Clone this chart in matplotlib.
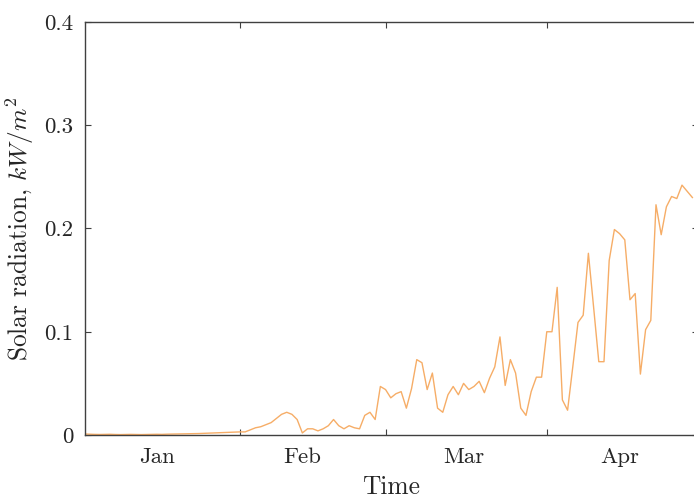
import matplotlib
matplotlib.use("Agg")
import matplotlib.pyplot as plt
import matplotlib.dates as mdates
import pandas as pd

# daily mean solar radiation, kW/m^2, from Jan 1
jan = [0.001, 0.001, 0.0008, 0.0006, 0.0005, 0.0006, 0.0007, 0.0005, 0.0004, 0.0005,
       0.0006, 0.0005, 0.0004, 0.0005, 0.0006, 0.0007, 0.0006, 0.0008, 0.0009, 0.001,
       0.0011, 0.0012, 0.0013, 0.0014, 0.0016, 0.0018, 0.002, 0.0022, 0.0024, 0.0026, 0.0028]
feb = [0.003, 0.003, 0.005, 0.007, 0.008, 0.010, 0.012, 0.016, 0.020, 0.022,
       0.020, 0.015, 0.002, 0.006, 0.006, 0.004, 0.006, 0.009, 0.015, 0.009,
       0.006, 0.009, 0.007, 0.006, 0.019, 0.022, 0.015, 0.047]
mar = [0.044, 0.036, 0.040, 0.042, 0.026, 0.045, 0.073, 0.070, 0.044, 0.060,
       0.026, 0.022, 0.039, 0.047, 0.039, 0.050, 0.044, 0.047, 0.052, 0.041,
       0.055, 0.066, 0.095, 0.048, 0.073, 0.060, 0.026, 0.019, 0.042, 0.056, 0.056]
apr = [0.100, 0.100, 0.143, 0.034, 0.024, 0.066, 0.109, 0.116, 0.176, 0.124,
       0.071, 0.071, 0.169, 0.199, 0.195, 0.189, 0.131, 0.137, 0.059, 0.102,
       0.111, 0.223, 0.194, 0.221, 0.231, 0.229, 0.242, 0.236, 0.230]

radiation = jan + feb + mar + apr
days = pd.date_range("2017-01-01", periods=len(radiation), freq="D")

month_labels = ["Jan", "Feb", "Mar", "Apr"]
label_dates = pd.to_datetime(["2017-01-16", "2017-02-13", "2017-03-16", "2017-04-15"])

yticks = [0, 0.1, 0.2, 0.3, 0.4]
ytick_labels = ["0", "0.1", "0.2", "0.3", "0.4"]

plt.rcParams["font.family"] = "cmr10"
plt.rcParams["mathtext.fontset"] = "cm"
plt.rcParams["axes.formatter.use_mathtext"] = True

text_col = "#262626"

fig = plt.figure(figsize=(6.94, 5.03), dpi=100)
ax = fig.add_axes([85 / 694, 68 / 503, 612.6 / 694, 413 / 503])

ax.plot(days, radiation, color="#f6ad67", lw=1.0)

start = pd.Timestamp("2017-01-01")
ax.set_xlim(start + pd.Timedelta(hours=29), start + pd.Timedelta(days=119))
ax.set_ylim(0, 0.4)

# month boundaries get tick marks, month names sit between them
ax.xaxis.set_major_locator(mdates.MonthLocator())
ax.xaxis.set_major_formatter(plt.NullFormatter())
ax.set_xticks(mdates.date2num(label_dates), minor=True)
ax.set_xticklabels(month_labels, minor=True)
ax.set_yticks(yticks)
ax.set_yticklabels(ytick_labels)

ax.tick_params(axis="both", which="major", direction="in", length=4, width=0.8,
               top=True, right=True, colors="#404040", labelcolor=text_col, labelsize=16.5)
ax.tick_params(axis="x", which="minor", length=0, labelsize=16.5, labelcolor=text_col, pad=9)
ax.tick_params(axis="y", pad=8.5)

for s in ax.spines.values():
    s.set_color("#404040")
    s.set_linewidth(1.0)

ax.set_xlabel("Time", fontsize=18.3, color=text_col, labelpad=6)
ax.set_ylabel("Solar radiation, $kW/m^2$", fontsize=18.3, color=text_col, labelpad=6)

fig.savefig("out.png", dpi=100)
